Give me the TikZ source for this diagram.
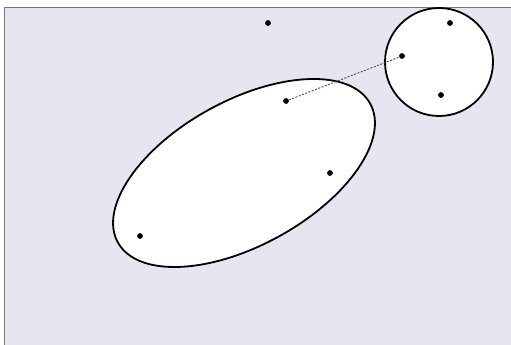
\documentclass[tikz,border=0pt]{standalone}
\definecolor{bgl}{RGB}{230,230,240}
\definecolor{framec}{RGB}{120,120,120}
\begin{document}
\begin{tikzpicture}[x=1pt,y=1pt,
  dot/.style={circle,fill=black,inner sep=0pt,minimum size=5.8pt},
  region/.style={draw=black,line width=1.8pt,fill=white},
  link/.style={line width=0.9pt,draw=black!70,dash pattern=on 2pt off 1.5pt}]
\useasboundingbox (0,0) rectangle (511,345);
\fill[white] (0,0) rectangle (511,345);
\fill[bgl] (4,0) rectangle (511,337.5);
\draw[framec,line width=1pt] (4,0) -- (4,337.5) -- (511,337.5);
\draw[region] (244,172) ellipse [x radius=144, y radius=72.4, rotate=28.8];
\draw[region] (439,283) circle [radius=54];
\node[dot] (a) at (268,322) {};
\node[dot] (b) at (286,244) {};
\node[dot] (c) at (330,172) {};
\node[dot] (d) at (140,109) {};
\node[dot] (e) at (402,289) {};
\node[dot] (f) at (450,322) {};
\node[dot] (g) at (441,250) {};
\draw[link] (b) -- (e);
\end{tikzpicture}
\end{document}
